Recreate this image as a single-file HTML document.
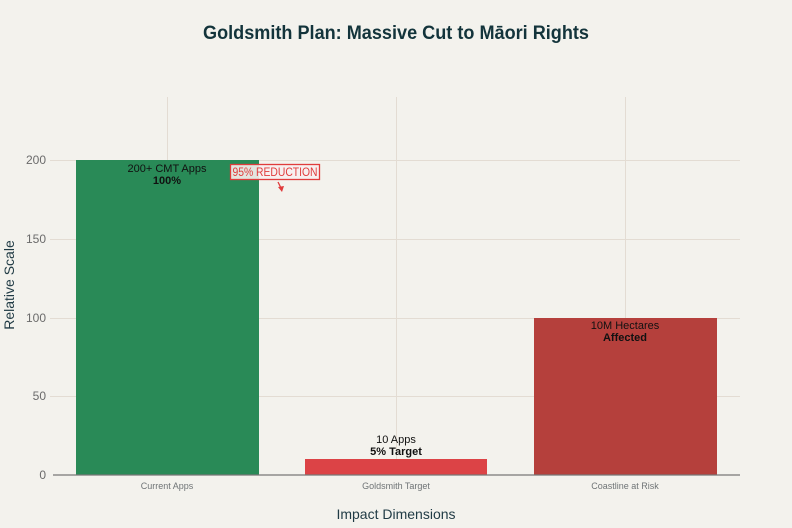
<!DOCTYPE html>
<html><head><meta charset="utf-8"><style>
html,body{margin:0;padding:0;background:#f3f2ed;}
svg{display:block;font-family:"Liberation Sans",Arial,sans-serif;}
</style></head><body>
<svg width="792" height="528" viewBox="0 0 792 528" xmlns="http://www.w3.org/2000/svg">
<rect width="792" height="528" fill="#f3f2ed"/>
<text x="396" y="39" text-anchor="middle" font-size="19" font-weight="bold" fill="#13343b" textLength="386" lengthAdjust="spacingAndGlyphs">Goldsmith Plan: Massive Cut to Māori Rights</text>
<!-- grid -->
<g stroke="#e3dcd3" stroke-width="1">
<line x1="167.5" y1="97" x2="167.5" y2="475"/>
<line x1="396.5" y1="97" x2="396.5" y2="475"/>
<line x1="625.5" y1="97" x2="625.5" y2="475"/>
<line x1="50" y1="160.5" x2="740" y2="160.5"/>
<line x1="50" y1="239.5" x2="740" y2="239.5"/>
<line x1="50" y1="318.5" x2="740" y2="318.5"/>
<line x1="50" y1="396.5" x2="740" y2="396.5"/>
</g>
<!-- bars -->
<rect x="76" y="160" width="183" height="315" fill="#298a57"/>
<rect x="305" y="459" width="182" height="16" fill="#dc4346"/>
<rect x="534" y="318" width="183" height="157" fill="#b5403c"/>
<line x1="53" y1="475" x2="740" y2="475" stroke="#777" stroke-width="1.3"/>
<!-- y ticks -->
<g font-size="12" fill="#6b6b6b" text-anchor="end">
<text x="46" y="164">200</text>
<text x="46" y="243">150</text>
<text x="46" y="322">100</text>
<text x="46" y="400">50</text>
<text x="46" y="479">0</text>
</g>
<!-- x ticks -->
<g font-size="9" fill="#6f7476" text-anchor="middle">
<text x="167" y="489">Current Apps</text>
<text x="396" y="489">Goldsmith Target</text>
<text x="625" y="489">Coastline at Risk</text>
</g>
<text x="396" y="519" text-anchor="middle" font-size="14" fill="#1f3a44">Impact Dimensions</text>
<text transform="translate(14,285) rotate(-90)" text-anchor="middle" font-size="14" fill="#1f3a44">Relative Scale</text>
<!-- bar labels -->
<g font-size="11" fill="#111" text-anchor="middle">
<text x="167" y="172">200+ CMT Apps</text>
<text x="167" y="184" font-weight="bold">100%</text>
<text x="396" y="443">10 Apps</text>
<text x="396" y="455" font-weight="bold">5% Target</text>
<text x="625" y="329">10M Hectares</text>
<text x="625" y="341" font-weight="bold">Affected</text>
</g>
<!-- annotation -->
<rect x="230.5" y="164.5" width="89" height="15" fill="#f7eeee" fill-opacity="0.9" stroke="#e03c3c" stroke-width="1.3"/>
<text x="275" y="176" text-anchor="middle" font-size="12" fill="#e03c3c" textLength="85" lengthAdjust="spacingAndGlyphs">95% REDUCTION</text>
<line x1="278" y1="182" x2="281" y2="188" stroke="#e03c3c" stroke-width="1.3"/>
<polygon points="278,187 284,186 282,192" fill="#e03c3c"/>
</svg>
</body></html>
